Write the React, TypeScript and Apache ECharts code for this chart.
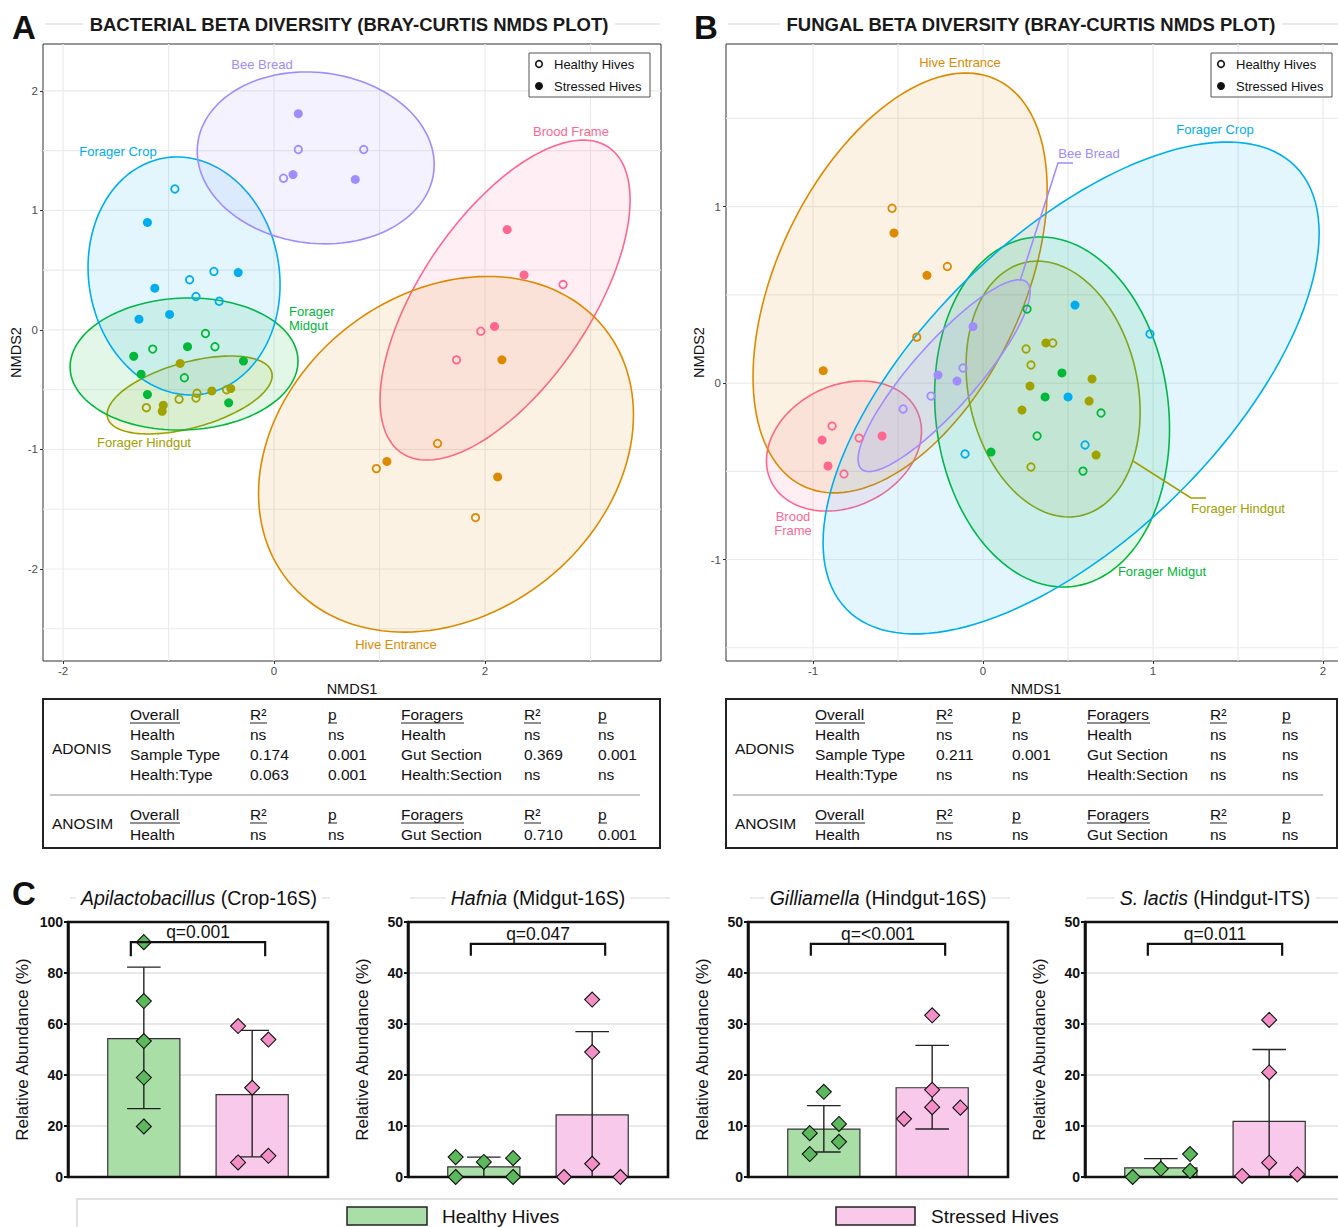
import React, { useEffect, useRef } from 'react';
import * as echarts from 'echarts';

// ---------- Panel A / B: NMDS data ----------
const groupNames = ['Brood Frame', 'Hive Entrance', 'Forager Hindgut', 'Forager Midgut', 'Forager Crop', 'Bee Bread'];
const groupColors = ['#FF6790', '#DE8A00', '#A1A100', '#00B83A', '#00AEEF', '#A08CFF'];

// ellipse: [cx, cy, ux, uy, vx, vy] (centre + conjugate semi-axes, NMDS units)
const ellipsesA = [
  [2.19, 0.25, 1.185, 0.837, 0, 1.045],
  [1.63, -1.04, 1.777, 0.33, 0, 1.451],
  [-0.8, -0.544, 0.782, 0.162, 0, 0.283],
  [-0.853, -0.285, 1.08, 0.024, 0, 0.552],
  [-0.853, 0.452, 0.91, -0.073, 0, 0.993],
  [0.395, 1.44, 1.123, -0.056, 0, 0.717],
];
const healthyA = [
  [[2.74, 0.38], [1.96, -0.01], [1.73, -0.25]],
  [[1.55, -0.95], [0.97, -1.16], [1.91, -1.57]],
  [[-0.73, -0.53], [-0.74, -0.57], [-0.9, -0.58], [-1.21, -0.65], [-0.45, -0.5]],
  [[-0.65, -0.03], [-1.15, -0.16], [-0.56, -0.14], [-0.85, -0.4]],
  [[-0.94, 1.18], [-0.57, 0.49], [-0.8, 0.42], [-0.74, 0.28], [-0.52, 0.24]],
  [[0.23, 1.51], [0.85, 1.51], [0.09, 1.27]],
];
const stressedA = [
  [[2.21, 0.84], [2.37, 0.46], [2.09, 0.03]],
  [[2.16, -0.25], [1.07, -1.1], [2.12, -1.23]],
  [[-0.89, -0.28], [-0.59, -0.51], [-1.05, -0.63], [-1.06, -0.68], [-0.41, -0.49]],
  [[-0.82, -0.14], [-1.33, -0.22], [-0.29, -0.26], [-1.26, -0.37], [-1.2, -0.54], [-0.43, -0.61]],
  [[-1.2, 0.9], [-0.34, 0.48], [-1.13, 0.35], [-1.28, 0.09], [-0.99, 0.13]],
  [[0.23, 1.81], [0.18, 1.3], [0.77, 1.26]],
];

const ellipsesB = [
  [-0.818, -0.357, 0.456, 0.083, 0, 0.359],
  [-0.488, 0.567, 0.865, 0.532, 0, 1.064],
  [0.412, -0.034, 0.512, -0.13, 0, 0.713],
  [0.406, -0.164, 0.691, -0.096, 0, 0.987],
  [0.518, -0.028, 1.459, 0.877, 0, 1.083],
  [-0.229, 0.042, 0.506, 0.474, 0, 0.266],
];
const healthyB = [
  [[-0.888, -0.244], [-0.729, -0.312], [-0.818, -0.515]],
  [[-0.535, 0.99], [-0.21, 0.66], [-0.39, 0.26]],
  [[0.41, 0.227], [0.253, 0.193], [0.282, 0.102], [0.282, -0.476]],
  [[0.259, 0.419], [0.694, -0.17], [0.318, -0.3], [0.588, -0.499]],
  [[0.982, 0.278], [0.6, -0.351], [-0.106, -0.402]],
  [[-0.118, 0.085], [-0.306, -0.074], [-0.47, -0.147]],
];
const stressedB = [
  [[-0.947, -0.323], [-0.594, -0.3], [-0.912, -0.47]],
  [[-0.524, 0.85], [-0.33, 0.61], [-0.94, 0.07]],
  [[0.37, 0.227], [0.641, 0.023], [0.276, -0.017], [0.624, -0.102], [0.229, -0.153], [0.665, -0.408]],
  [[0.464, 0.057], [0.365, -0.079], [0.047, -0.391]],
  [[0.541, 0.442], [0.5, -0.079]],
  [[-0.059, 0.32], [-0.265, 0.045], [-0.153, 0.011]],
];

const xTicksA = [-2, 0, 2];
const yTicksA = [-2, -1, 0, 1, 2];
const xGridA = [-2, -1, 0, 1, 2, 3];
const yGridA = [-2.5, -2, -1.5, -1, -0.5, 0, 0.5, 1, 1.5, 2];
const xTicksB = [-1, 0, 1, 2];
const yTicksB = [-1, 0, 1];
const xGridB = [-1, -0.5, 0, 0.5, 1, 1.5, 2];
const yGridB = [-1.5, -1, -0.5, 0, 0.5, 1, 1.5];

// ---------- Tables ----------
const tableHeaders = ['Overall', 'R²', 'p', 'Foragers', 'R²', 'p'];
const adonisRowsA = [
  ['Health', 'ns', 'ns', 'Health', 'ns', 'ns'],
  ['Sample Type', '0.174', '0.001', 'Gut Section', '0.369', '0.001'],
  ['Health:Type', '0.063', '0.001', 'Health:Section', 'ns', 'ns'],
];
const anosimRowsA = [['Health', 'ns', 'ns', 'Gut Section', '0.710', '0.001']];
const adonisRowsB = [
  ['Health', 'ns', 'ns', 'Health', 'ns', 'ns'],
  ['Sample Type', '0.211', '0.001', 'Gut Section', 'ns', 'ns'],
  ['Health:Type', 'ns', 'ns', 'Health:Section', 'ns', 'ns'],
];
const anosimRowsB = [['Health', 'ns', 'ns', 'Gut Section', 'ns', 'ns']];

// ---------- Panel C: bar charts ----------
const barTitlesItalic = ['Apilactobacillus', 'Hafnia', 'Gilliamella', 'S. lactis'];
const barTitlesRest = ['(Crop-16S)', '(Midgut-16S)', '(Hindgut-16S)', '(Hindgut-ITS)'];
const barYMax = [100, 50, 50, 50];
const barYInterval = [20, 10, 10, 10];
const qLabels = ['q=0.001', 'q=0.047', 'q=<0.001', 'q=0.011'];
const healthyMean = [54.3, 2.0, 9.4, 1.8];
const stressedMean = [32.3, 12.2, 17.5, 10.9];
const healthyErr = [[26.8, 82.3], [0, 3.9], [4.9, 14.0], [0, 3.6]];
const stressedErr = [[7.9, 57.5], [0, 28.5], [9.4, 25.8], [0, 25.0]];
const healthyPts = [
  [[0, 92.1], [0, 69], [0, 53.3], [0, 39], [0, 19.8]],
  [[-0.26, 3.9], [-0.26, 0], [0, 2.95], [0.27, 3.7], [0.27, 0]],
  [[0, 16.7], [0.14, 10.4], [-0.13, 8.6], [0.14, 6.9], [-0.13, 4.5]],
  [[-0.26, 0], [0, 1.6], [0.27, 4.5], [0.27, 1.2]],
];
const stressedPts = [
  [[0.87, 59.2], [1.15, 53.9], [1, 35], [0.87, 5.7], [1.15, 8.3]],
  [[1, 34.8], [1, 24.5], [1, 2.6], [0.74, 0], [1.26, 0]],
  [[1, 31.7], [1, 17.1], [1, 13.7], [0.74, 11.4], [1.26, 13.6]],
  [[1, 30.8], [1, 20.5], [1, 2.8], [0.75, 0.2], [1.26, 0.5]],
];
const bracketLevels = [[92.1, 86.6], [45.7, 43.4], [45.7, 43.4], [45.7, 43.4]];

// ---------- styling ----------
const SANS = '"Liberation Sans", Arial, sans-serif';
const GREEN_BAR = '#A9DEA6';
const PINK_BAR = '#F9C9EC';
const GREEN_PT = '#5BB85B';
const PINK_PT = '#F38FC6';

function rgba(hex: string, a: number) {
  const n = parseInt(hex.slice(1), 16);
  return `rgba(${(n >> 16) & 255},${(n >> 8) & 255},${n & 255},${a})`;
}

function text(x: number, y: number, str: string, o: any = {}) {
  return {
    type: 'text', x, y, silent: true, z: o.z ?? 10,
    style: {
      text: str,
      fill: o.color ?? '#111',
      font: `${o.style ?? 'normal'} ${o.weight ?? 'normal'} ${o.size ?? 14}px ${o.family ?? SANS}`,
      textAlign: o.align ?? 'left',
      textVerticalAlign: 'middle',
      ...(o.bg ? { backgroundColor: o.bg, padding: o.pad ?? [0, 5] } : {}),
      ...(o.rich ? { rich: o.rich } : {}),
      ...(o.lineHeight ? { lineHeight: o.lineHeight } : {}),
    },
  };
}
function line(x1: number, y1: number, x2: number, y2: number, stroke: string, lw = 1, z = 9) {
  return { type: 'line', silent: true, z, shape: { x1, y1, x2, y2 }, style: { stroke, lineWidth: lw } };
}

function scatterPanel(gi: number, xr: number[], yr: number[], xt: number[], yt: number[], xg: number[], yg: number[],
  ell: number[][], hp: number[][][], sp: number[][][]) {
  const xAxis = {
    gridIndex: gi, type: 'value', min: xr[0], max: xr[1],
    splitLine: { show: false },
    axisLine: { show: false, onZero: false },
    axisTick: { show: true, customValues: xt, length: 3, lineStyle: { color: '#333' } },
    axisLabel: { customValues: xt, color: '#4D4D4D', fontSize: 11.5, margin: 4, fontFamily: SANS },
    name: 'NMDS1', nameLocation: 'middle', nameGap: 14,
    nameTextStyle: { fontSize: 14.5, color: '#111', fontFamily: SANS },
  };
  const yAxis = {
    gridIndex: gi, type: 'value', min: yr[0], max: yr[1],
    splitLine: { show: false },
    axisLine: { show: false, onZero: false },
    axisTick: { show: true, customValues: yt, length: 3, lineStyle: { color: '#333' } },
    axisLabel: { customValues: yt, color: '#4D4D4D', fontSize: 11.5, margin: 5, fontFamily: SANS },
    name: 'NMDS2', nameLocation: 'middle', nameGap: 19,
    nameTextStyle: { fontSize: 14.5, color: '#111', fontFamily: SANS },
  };
  const series: any[] = [];
  const gridData = [...xg.map((v) => [v, 0, 0]), ...yg.map((v) => [0, v, 1])];
  series.push({
    type: 'custom', xAxisIndex: gi, yAxisIndex: gi, z: 1, silent: true, data: gridData,
    encode: { x: 0, y: 1 },
    renderItem: (p: any, api: any) => {
      const cs = p.coordSys;
      if (api.value(2) === 0) {
        const x = api.coord([api.value(0), 0])[0];
        return { type: 'line', shape: { x1: x, y1: cs.y, x2: x, y2: cs.y + cs.height }, style: { stroke: '#EBEBEB', lineWidth: 1.2 } };
      }
      const y = api.coord([0, api.value(1)])[1];
      return { type: 'line', shape: { x1: cs.x, y1: y, x2: cs.x + cs.width, y2: y }, style: { stroke: '#EBEBEB', lineWidth: 1.2 } };
    },
  });
  ell.forEach((e, i) => {
    const color = groupColors[i];
    series.push({
      type: 'custom', name: groupNames[i] + ' ellipse', xAxisIndex: gi, yAxisIndex: gi, z: 2, silent: true, clip: true,
      data: [e], encode: { x: 0, y: 1 },
      renderItem: (_p: any, api: any) => {
        const cx = api.value(0), cy = api.value(1), ux = api.value(2), uy = api.value(3), vx = api.value(4), vy = api.value(5);
        const pts: number[][] = [];
        for (let k = 0; k < 144; k++) {
          const t = (2 * Math.PI * k) / 144;
          pts.push(api.coord([cx + ux * Math.cos(t) + vx * Math.sin(t), cy + uy * Math.cos(t) + vy * Math.sin(t)]));
        }
        return { type: 'polygon', shape: { points: pts }, style: { fill: rgba(color, 0.11), stroke: color, lineWidth: 1.6 } };
      },
    });
  });
  groupNames.forEach((g, i) => {
    const color = groupColors[i];
    series.push({
      type: 'scatter', name: g + ' healthy', xAxisIndex: gi, yAxisIndex: gi, z: 3, silent: true,
      symbol: 'circle', symbolSize: 7.5, data: hp[i],
      itemStyle: { color: 'rgba(255,255,255,0)', borderColor: color, borderWidth: 1.8, opacity: 1 },
    });
    series.push({
      type: 'scatter', name: g + ' stressed', xAxisIndex: gi, yAxisIndex: gi, z: 3, silent: true,
      symbol: 'circle', symbolSize: 9, data: sp[i],
      itemStyle: { color, opacity: 1 },
    });
  });
  return { xAxis, yAxis, series };
}

function tableGraphics(left: number, cols: number[], adonis: string[][], anosim: string[][], width: number) {
  const g: any[] = [];
  g.push({ type: 'rect', silent: true, z: 5, shape: { x: left, y: 699, width, height: 149 }, style: { fill: '#fff', stroke: '#222', lineWidth: 2 } });
  const ulw = [50, 17, 9, 63, 17, 9];
  const rowsY = [714, 734, 754, 774];
  const anY = [814, 834];
  const fs = 15.5;
  g.push(text(left + 9, 748, 'ADONIS', { size: fs }));
  g.push(text(left + 9, 823, 'ANOSIM', { size: fs }));
  tableHeaders.forEach((h, j) => {
    g.push(text(cols[j], rowsY[0], h, { size: fs }));
    g.push(line(cols[j], rowsY[0] + 9, cols[j] + ulw[j], rowsY[0] + 9, '#222', 1));
    g.push(text(cols[j], anY[0], h, { size: fs }));
    g.push(line(cols[j], anY[0] + 9, cols[j] + ulw[j], anY[0] + 9, '#222', 1));
  });
  adonis.forEach((r, i) => r.forEach((c, j) => g.push(text(cols[j], rowsY[i + 1], c, { size: fs }))));
  anosim.forEach((r, i) => r.forEach((c, j) => g.push(text(cols[j], anY[i + 1], c, { size: fs }))));
  g.push(line(left + 7, 795, left + 597, 795, '#C8C8C8', 2));
  return g;
}

function buildOption() {
  const A = scatterPanel(0, [-2.19, 3.668], [-2.77, 2.393], xTicksA, yTicksA, xGridA, yGridA, ellipsesA, healthyA, stressedA);
  const B = scatterPanel(1, [-1.512, 2.135], [-1.575, 1.921], xTicksB, yTicksB, xGridB, yGridB, ellipsesB, healthyB, stressedB);

  const grids: any[] = [
    { left: 43, top: 44, width: 618, height: 617, show: true, borderColor: '#333', borderWidth: 1, backgroundColor: '#fff', containLabel: false, outerBoundsMode: 'none' },
    { left: 726, top: 44, width: 620, height: 617, show: true, borderColor: '#333', borderWidth: 1, backgroundColor: '#fff', containLabel: false, outerBoundsMode: 'none' },
  ];
  const xAxes: any[] = [A.xAxis, B.xAxis];
  const yAxes: any[] = [A.yAxis, B.yAxis];
  const series: any[] = [...A.series, ...B.series];
  const barLefts = [68, 408, 748, 1085];

  barTitlesItalic.forEach((_t, c) => {
    const gi = 2 + c;
    grids.push({ left: barLefts[c], top: 922, width: 260, height: 255, show: false, containLabel: false, outerBoundsMode: 'none' });
    xAxes.push({ gridIndex: gi, type: 'value', min: -0.7, max: 1.7, show: false });
    yAxes.push({
      gridIndex: gi, type: 'value', min: 0, max: barYMax[c], interval: barYInterval[c],
      axisLine: { show: true, onZero: false, lineStyle: { color: '#111', width: 2.5 } },
      axisTick: { show: true, length: 4, lineStyle: { color: '#111', width: 2 } },
      axisLabel: { color: '#111', fontSize: 14, fontWeight: 'bold', margin: 5, fontFamily: SANS },
      splitLine: { show: true, lineStyle: { color: '#E2E2E2', width: 1.5 } },
      name: 'Relative Abundance (%)', nameLocation: 'middle', nameGap: 37,
      nameTextStyle: { fontSize: 17, color: '#111', fontFamily: SANS },
    });
    series.push({
      type: 'custom', xAxisIndex: gi, yAxisIndex: gi, z: 2, silent: true,
      data: [[0, healthyMean[c], 0], [1, stressedMean[c], 1]], encode: { x: 0, y: 1 },
      renderItem: (_p: any, api: any) => {
        const x = api.value(0), v = api.value(1);
        const s = api.coord([x - 0.333, v]);
        const e = api.coord([x + 0.333, 0]);
        return { type: 'rect', shape: { x: s[0], y: s[1], width: e[0] - s[0], height: e[1] - s[1] },
          style: { fill: api.value(2) === 0 ? GREEN_BAR : PINK_BAR, stroke: '#333', lineWidth: 1.2 } };
      },
    });
    series.push({
      type: 'custom', xAxisIndex: gi, yAxisIndex: gi, z: 3, silent: true,
      data: [[0, healthyErr[c][0], healthyErr[c][1]], [1, stressedErr[c][0], stressedErr[c][1]]],
      encode: { x: 0, y: [1, 2] },
      renderItem: (_p: any, api: any) => {
        const x = api.value(0);
        const lo = api.coord([x, api.value(1)]);
        const hi = api.coord([x, api.value(2)]);
        const cl = api.coord([x - 0.155, 0])[0];
        const cr = api.coord([x + 0.155, 0])[0];
        const st = { stroke: '#222', lineWidth: 1.4 };
        return { type: 'group', children: [
          { type: 'line', shape: { x1: lo[0], y1: lo[1], x2: hi[0], y2: hi[1] }, style: st },
          { type: 'line', shape: { x1: cl, y1: hi[1], x2: cr, y2: hi[1] }, style: st },
          { type: 'line', shape: { x1: cl, y1: lo[1], x2: cr, y2: lo[1] }, style: st },
        ] };
      },
    });
    // plot frame (drawn above the split lines)
    series.push({
      type: 'custom', xAxisIndex: gi, yAxisIndex: gi, z: 3, silent: true, clip: false,
      data: [[0, 0]], encode: { x: 0, y: 1 },
      renderItem: (p: any) => {
        const cs = p.coordSys;
        return { type: 'rect', shape: { x: cs.x, y: cs.y, width: cs.width, height: cs.height },
          style: { fill: 'rgba(0,0,0,0)', stroke: '#111', lineWidth: 2.6 } };
      },
    });
    series.push({
      type: 'scatter', xAxisIndex: gi, yAxisIndex: gi, z: 4, silent: true, symbol: 'diamond', symbolSize: 15,
      data: healthyPts[c], itemStyle: { color: GREEN_PT, borderColor: '#111', borderWidth: 1.1, opacity: 1 },
    });
    series.push({
      type: 'scatter', xAxisIndex: gi, yAxisIndex: gi, z: 4, silent: true, symbol: 'diamond', symbolSize: 15,
      data: stressedPts[c], itemStyle: { color: PINK_PT, borderColor: '#111', borderWidth: 1.1, opacity: 1 },
    });
    const q = qLabels[c];
    series.push({
      type: 'custom', xAxisIndex: gi, yAxisIndex: gi, z: 5, silent: true, clip: false,
      data: [[-0.12, 1.12, bracketLevels[c][0], bracketLevels[c][1]]], encode: { x: [0, 1], y: [2, 3] },
      renderItem: (_p: any, api: any) => {
        const x1 = api.value(0), x2 = api.value(1), top = api.value(2), drop = api.value(3);
        const a = api.coord([x1, drop]), b = api.coord([x1, top]), cc = api.coord([x2, top]), d = api.coord([x2, drop]);
        return { type: 'group', children: [
          { type: 'polyline', shape: { points: [a, b, cc, d] }, style: { stroke: '#111', lineWidth: 2.2, fill: null } },
          { type: 'text', style: { text: q, x: (b[0] + cc[0]) / 2, y: b[1] - 10, fill: '#111', fontSize: 17.5, fontFamily: SANS, align: 'center', verticalAlign: 'middle' } },
        ] };
      },
    });
  });

  const g: any[] = [];
  // Panel letters
  g.push(text(24, 27, 'A', { size: 33, weight: 'bold', align: 'center' }));
  g.push(text(706, 27, 'B', { size: 33, weight: 'bold', align: 'center' }));
  g.push(text(24, 893, 'C', { size: 33, weight: 'bold', align: 'center' }));
  // Panel titles with side rules
  g.push(line(45, 24, 660, 24, '#D6D6D6', 1.2, 8));
  g.push(text(349, 24, 'BACTERIAL BETA DIVERSITY (BRAY-CURTIS NMDS PLOT)', { size: 18.5, weight: 'bold', align: 'center', bg: '#fff', pad: [0, 6], color: '#1a1a1a' }));
  g.push(line(728, 24, 1338, 24, '#D6D6D6', 1.2, 8));
  g.push(text(1031, 24, 'FUNGAL BETA DIVERSITY (BRAY-CURTIS NMDS PLOT)', { size: 18.5, weight: 'bold', align: 'center', bg: '#fff', pad: [0, 6], color: '#1a1a1a' }));

  // Legends in A and B
  [529, 1211].forEach((lx) => {
    g.push({ type: 'rect', silent: true, z: 10, shape: { x: lx, y: 53, width: 121, height: 44 }, style: { fill: '#fff', stroke: '#555', lineWidth: 1 } });
    g.push({ type: 'circle', silent: true, z: 11, shape: { cx: lx + 10, cy: 64, r: 3.3 }, style: { fill: '#fff', stroke: '#111', lineWidth: 1.6 } });
    g.push(text(lx + 25, 64, 'Healthy Hives', { size: 13, z: 11 }));
    g.push({ type: 'circle', silent: true, z: 11, shape: { cx: lx + 10, cy: 86, r: 4 }, style: { fill: '#111' } });
    g.push(text(lx + 25, 86, 'Stressed Hives', { size: 13, z: 11 }));
  });

  // Group labels, panel A
  const c = groupColors;
  const L = 13;
  g.push(text(262, 64, 'Bee Bread', { size: L, color: c[5], align: 'center' }));
  g.push(text(118, 151, 'Forager Crop', { size: L, color: c[4], align: 'center' }));
  g.push(text(289, 318, 'Forager\nMidgut', { size: L, color: c[3], lineHeight: 14 }));
  g.push(text(144, 442, 'Forager Hindgut', { size: L, color: c[2], align: 'center' }));
  g.push(text(571, 131, 'Brood Frame', { size: L, color: c[0], align: 'center' }));
  g.push(text(396, 644, 'Hive Entrance', { size: L, color: c[1], align: 'center' }));
  // Group labels, panel B
  g.push(text(960, 62, 'Hive Entrance', { size: L, color: c[1], align: 'center' }));
  g.push(text(1089, 153, 'Bee Bread', { size: L, color: c[5], align: 'center' }));
  g.push({ type: 'polyline', silent: true, z: 9, shape: { points: [[1020, 281], [1058, 163], [1073, 163]] }, style: { stroke: c[5], lineWidth: 1.6, fill: null } });
  g.push(text(1215, 129, 'Forager Crop', { size: L, color: c[4], align: 'center' }));
  g.push(text(1238, 508, 'Forager Hindgut', { size: L, color: c[2], align: 'center' }));
  g.push({ type: 'polyline', silent: true, z: 9, shape: { points: [[1133, 461], [1191, 498], [1206, 498]] }, style: { stroke: c[2], lineWidth: 1.6, fill: null } });
  g.push(text(1162, 571, 'Forager Midgut', { size: L, color: c[3], align: 'center' }));
  g.push(text(793, 523, 'Brood\nFrame', { size: L, color: c[0], align: 'center', lineHeight: 14 }));

  // Tables
  g.push(...tableGraphics(43, [130, 250, 328, 401, 524, 598], adonisRowsA, anosimRowsA, 617));
  g.push(...tableGraphics(726, [815, 936, 1012, 1087, 1210, 1282], adonisRowsB, anosimRowsB, 611));

  // Bar chart titles
  const titleCenters = [199, 538, 878, 1215];
  titleCenters.forEach((cx, i) => {
    g.push(line(barLefts[i] + 2, 898, barLefts[i] + 262, 898, '#DADADA', 1.2, 8));
    g.push(text(cx, 898, `{i|${barTitlesItalic[i]}} ${barTitlesRest[i]}`, {
      size: 19.5, align: 'center', bg: '#fff', pad: [0, 5],
      rich: { i: { fontStyle: 'italic', fontSize: 19.5, fontFamily: SANS, fill: '#111' } },
    }));
  });

  // Bottom legend
  g.push({ type: 'rect', silent: true, z: 5, shape: { x: 77, y: 1199, width: 1300, height: 50 }, style: { fill: '#fff', stroke: '#D8D8D8', lineWidth: 1.5 } });
  g.push({ type: 'rect', silent: true, z: 6, shape: { x: 347, y: 1207, width: 80, height: 18 }, style: { fill: GREEN_BAR, stroke: '#222', lineWidth: 1.5 } });
  g.push(text(442, 1216, 'Healthy Hives', { size: 19, z: 6 }));
  g.push({ type: 'rect', silent: true, z: 6, shape: { x: 836, y: 1207, width: 79, height: 18 }, style: { fill: PINK_BAR, stroke: '#222', lineWidth: 1.5 } });
  g.push(text(931, 1216, 'Stressed Hives', { size: 19, z: 6 }));

  return {
    animation: false,
    backgroundColor: '#fff',
    grid: grids,
    xAxis: xAxes,
    yAxis: yAxes,
    series,
    graphic: { elements: g },
  };
}

export default function App() {
  const ref = useRef<HTMLDivElement>(null);
  useEffect(() => {
    if (!ref.current) return;
    const chart = echarts.init(ref.current, undefined, { renderer: 'svg' });
    chart.setOption(buildOption() as any);
    return () => chart.dispose();
  }, []);
  return <div ref={ref} style={{ position: 'absolute', left: 0, top: 0, width: 1338, height: 1227 }} />;
}
